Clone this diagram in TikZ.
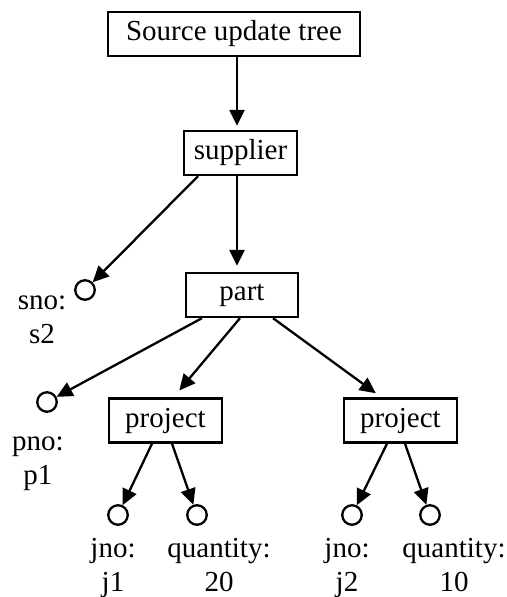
\documentclass[tikz,border=0pt]{standalone}
\usepackage{fontspec}
\setmainfont{Liberation Serif}
\usetikzlibrary{arrows.meta}
\begin{document}
\begin{tikzpicture}[x=1pt,y=-1pt,
  every node/.style={font=\fontsize{29}{34}\selectfont},
  box/.style={draw,line width=2.3pt,minimum height=44pt,minimum width=113pt,inner sep=0pt},
  leaf/.style={draw,circle,line width=2.3pt,minimum size=19.5pt,inner sep=0pt},
  lbl/.style={align=center,anchor=base,inner sep=0pt},
  edge/.style={line width=2.3pt,-{Triangle[length=16pt,width=15pt]}}]
\useasboundingbox (0,0) rectangle (506,597);

% element boxes
\node[box,minimum width=252pt] (src) at (234,34) {Source update tree};
\node[box] (sup) at (240.5,153) {supplier};
\node[box,minimum width=112pt] (part) at (242,295) {part};
\node[box] (proj1) at (165.5,420.5) {project};
\node[box] (proj2) at (400.5,420.5) {project};

% attribute leaves
\node[leaf] (sno) at (85,290) {};
\node[leaf] (pno) at (47,402) {};
\node[leaf] (jnoA) at (118,515) {};
\node[leaf] (qtyA) at (197,515) {};
\node[leaf] (jnoB) at (352,515) {};
\node[leaf] (qtyB) at (430,515) {};

% attribute labels (anchored at the baseline of their second line)
\node[lbl] (snoL) at (42,343) {sno:\\s2};
\node[lbl] (pnoL) at (38,484) {pno:\\p1};
\node[lbl] (jnoAL) at (113,591) {jno:\\j1};
\node[lbl] (qtyAL) at (219,591) {quantity:\\20};
\node[lbl] (jnoBL) at (347,591) {jno:\\j2};
\node[lbl] (qtyBL) at (454,591) {quantity:\\10};

% tree edges
\draw[edge,shorten >=4pt] ([xshift=3pt]src.south) -- ([xshift=-3.5pt]sup.north);
\draw[edge] ([xshift=-42.5pt]sup.south) -- (sno);
\draw[edge,shorten >=6pt] ([xshift=-3.5pt]sup.south) -- ([xshift=-5pt]part.north);
\draw[edge] ([xshift=-40pt]part.south) -- (pno);
\draw[edge,shorten >=9pt] ([xshift=-2pt]part.south) -- ([xshift=8pt]proj1.north);
\draw[edge,shorten >=7pt] ([xshift=31pt]part.south) -- ([xshift=-19pt]proj2.north);
\draw[edge] ([xshift=-13.5pt]proj1.south) -- (jnoA);
\draw[edge] ([xshift=6.5pt]proj1.south) -- (qtyA);
\draw[edge] ([xshift=-13.5pt]proj2.south) -- (jnoB);
\draw[edge] ([xshift=4.5pt]proj2.south) -- (qtyB);
\end{tikzpicture}
\end{document}
